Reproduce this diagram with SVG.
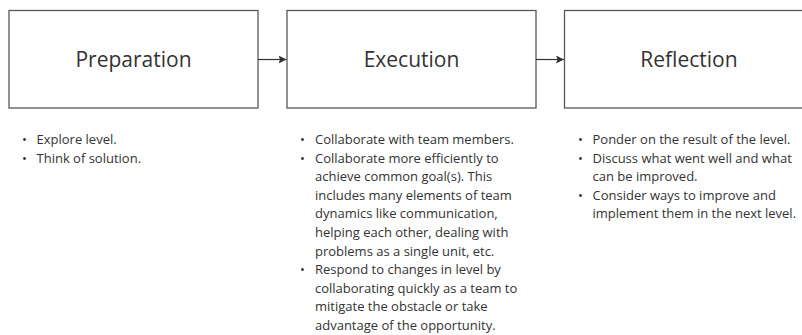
<svg xmlns="http://www.w3.org/2000/svg" width="802" height="335" viewBox="0 0 802 335">
<style>
.box{fill:#fff;stroke:#585858;stroke-width:1.3}
.title{font-family:"Open Sans",sans-serif;font-size:21px;fill:#333;text-anchor:middle}
.txt{font-family:"Open Sans",sans-serif;font-size:13px;fill:#333}
.conn{stroke:#333;stroke-width:1.2;fill:none}
</style>
<defs>
<marker id="ah" viewBox="0 0 10 10" refX="10" refY="5" markerWidth="8" markerHeight="8" markerUnits="userSpaceOnUse" orient="auto">
<path d="M0,0 L10,5 L0,10 L2,5 z" fill="#333"/>
</marker>
</defs>
<rect width="802" height="335" fill="#fff"/>
<g id="prep">
<rect class="box" x="9" y="10.5" width="249" height="97.5"/>
<text class="title" x="133.5" y="66.5">Preparation</text>
</g>
<g id="exec">
<rect class="box" x="287" y="10.5" width="249" height="97.5"/>
<text class="title" x="411.5" y="66.5">Execution</text>
</g>
<g id="refl">
<rect class="box" x="564.5" y="10.5" width="249" height="97.5"/>
<text class="title" x="689" y="66.5">Reflection</text>
</g>
<g id="connectors">
<line class="conn" x1="258" y1="59.5" x2="286.5" y2="59.5" marker-end="url(#ah)"/>
<line class="conn" x1="536" y1="59.5" x2="564" y2="59.5" marker-end="url(#ah)"/>
</g>
<g id="prep-notes" class="txt">
<text x="22" y="144">•</text><text x="36.5" y="144">Explore level.</text>
<text x="22" y="162.6">•</text><text x="36.5" y="162.6">Think of solution.</text>
</g>
<g id="exec-notes" class="txt">
<text x="300" y="144">•</text><text x="315" y="144">Collaborate with team members.</text>
<text x="300" y="162.6">•</text><text x="315" y="162.6">Collaborate more efficiently to</text>
<text x="315" y="181.2">achieve common goal(s). This</text>
<text x="315" y="199.8">includes many elements of team</text>
<text x="315" y="218.4">dynamics like communication,</text>
<text x="315" y="237">helping each other, dealing with</text>
<text x="315" y="255.6">problems as a single unit, etc.</text>
<text x="300" y="274.2">•</text><text x="315" y="274.2">Respond to changes in level by</text>
<text x="315" y="292.8">collaborating quickly as a team to</text>
<text x="315" y="311.4">mitigate the obstacle or take</text>
<text x="315" y="330">advantage of the opportunity.</text>
</g>
<g id="refl-notes" class="txt">
<text x="578" y="144">•</text><text x="592.5" y="144">Ponder on the result of the level.</text>
<text x="578" y="162.6">•</text><text x="592.5" y="162.6">Discuss what went well and what</text>
<text x="592.5" y="181.2">can be improved.</text>
<text x="578" y="199.8">•</text><text x="592.5" y="199.8">Consider ways to improve and</text>
<text x="592.5" y="218.4">implement them in the next level.</text>
</g>
</svg>
